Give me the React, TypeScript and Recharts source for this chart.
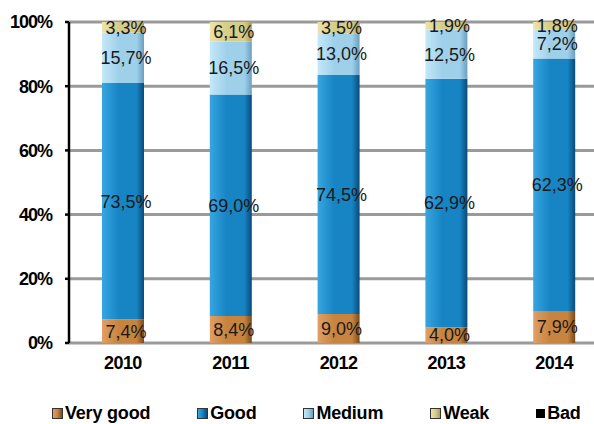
import React from "react";
import {
  BarChart,
  Bar,
  XAxis,
  YAxis,
  CartesianGrid,
  Legend,
  LabelList,
} from "recharts";

const years = ["2010", "2011", "2012", "2013", "2014"];
const veryGood = [7.4, 8.4, 9.0, 4.0, 7.9];
const good = [73.5, 69.0, 74.5, 62.9, 62.3];
const medium = [15.7, 16.5, 13.0, 12.5, 7.2];
const weak = [3.3, 6.1, 3.5, 1.9, 1.8];
const bad = [0, 0, 0, 0, 0];
const yTicks = [0, 0.2, 0.4, 0.6, 0.8, 1];

const data = years.map((year, i) => ({
  year,
  veryGood: veryGood[i],
  good: good[i],
  medium: medium[i],
  weak: weak[i],
  bad: bad[i],
}));

const series = [
  { key: "veryGood", name: "Very good", light: "#dfa066", mid: "#c8843f", dark: "#7a4a1e" },
  { key: "good", name: "Good", light: "#37a6e0", mid: "#1784c4", dark: "#0a4a78" },
  { key: "medium", name: "Medium", light: "#c4e8f8", mid: "#9fd0ea", dark: "#6a9fc0" },
  { key: "weak", name: "Weak", light: "#ebe4aa", mid: "#d6cd8a", dark: "#a89e5c" },
  { key: "bad", name: "Bad", light: "#000000", mid: "#000000", dark: "#000000" },
];

const FONT = "'Liberation Sans', Arial, sans-serif";

function fmtVal(v: number) {
  return v.toFixed(1).replace(".", ",") + "%";
}

function LegendBox() {
  return (
    <div
      style={{
        display: "flex",
        gap: 47,
        paddingLeft: 52,
        height: 20,
        lineHeight: "20px",
        fontFamily: FONT,
        fontWeight: "bold",
        fontSize: 18,
        letterSpacing: -0.2,
        color: "#000",
      }}
    >
      {series.map((s) => (
        <div key={s.key} style={{ display: "flex", alignItems: "center" }}>
          <span
            style={{
              display: "inline-block",
              width: 9,
              height: 9,
              marginRight: 2,
              background:
                s.key === "bad"
                  ? "#000"
                  : `linear-gradient(90deg, ${s.light}, ${s.mid} 50%, ${s.dark})`,
              border: s.key === "bad" ? "none" : "1px solid #333",
            }}
          />
          {s.name}
        </div>
      ))}
    </div>
  );
}

export default function App() {
  return (
    <div
      style={{
        position: "absolute",
        left: 0,
        top: 0,
        width: 594,
        height: 424,
        overflow: "hidden",
        background: "#fff",
      }}
    >
      <BarChart
        width={608}
        height={424}
        data={data}
        stackOffset="expand"
        margin={{ top: 22, right: 0, bottom: 1, left: 0 }}
        style={{ fontFamily: FONT }}
      >
        <defs>
          {series.map((s) => (
            <linearGradient key={s.key} id={`grad-${s.key}`} x1="0" y1="0" x2="1" y2="0">
              <stop offset="0%" stopColor={s.light} />
              <stop offset="40%" stopColor={s.mid} />
              <stop offset="82%" stopColor={s.mid} />
              <stop offset="100%" stopColor={s.dark} />
            </linearGradient>
          ))}
        </defs>
        <CartesianGrid vertical={false} stroke="#9a9a9a" strokeWidth={3} />
        <XAxis
          dataKey="year"
          height={60}
          axisLine={false}
          tickLine={false}
          tickSize={0}
          tickMargin={13}
          tick={{ fill: "#000", fontSize: 18, fontWeight: "bold", letterSpacing: -0.6 }}
        />
        <YAxis
          width={69}
          domain={[0, 1]}
          ticks={yTicks}
          tickFormatter={(v) => `${Math.round(Number(v) * 100)}%`}
          axisLine={{ stroke: "#000", strokeWidth: 2.5 }}
          tickLine={{ stroke: "#000", strokeWidth: 2.5 }}
          tickSize={4}
          tickMargin={13}
          tick={{ fill: "#000", fontSize: 18, fontWeight: "bold", letterSpacing: -1 }}
        />
        <Legend
          verticalAlign="bottom"
          content={() => <LegendBox />}
          wrapperStyle={{ left: 0, bottom: 1, width: 594 }}
        />
        {series.map((s) => (
          <Bar
            key={s.key}
            dataKey={s.key}
            name={s.name}
            stackId="a"
            barSize={42}
            fill={`url(#grad-${s.key})`}
            isAnimationActive={false}
          >
            {s.key !== "bad" && (
              <LabelList
                dataKey={s.key}
                position="center"
                formatter={(v: any) => fmtVal(Number(v))}
                style={{ fill: "#1a1a1a", fontSize: 18, fontFamily: FONT }}
                dx={3}
              />
            )}
          </Bar>
        ))}
      </BarChart>
    </div>
  );
}
